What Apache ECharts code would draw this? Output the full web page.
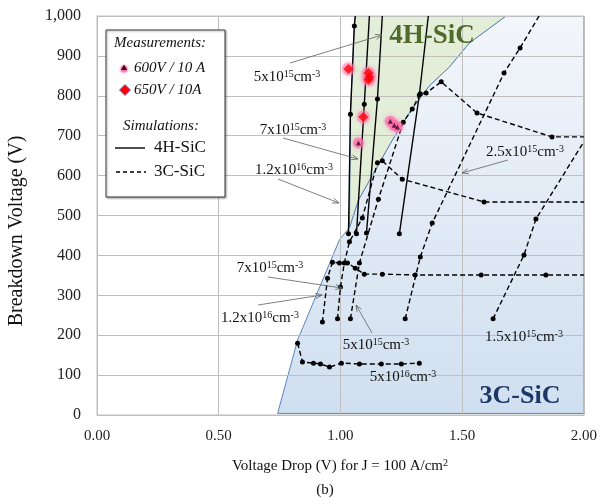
<!DOCTYPE html>
<html><head><meta charset="utf-8">
<script src="https://cdn.jsdelivr.net/npm/echarts@6/dist/echarts.min.js"></script>
<style>html,body{margin:0;padding:0;background:#fff}#c{width:600px;height:504px}</style>
</head><body><div id="c"></div>
<script>
// ---- data (x = voltage drop V, y = breakdown voltage V) ----
const xMin = 0, xMax = 2, xStep = 0.5;
const yMin = 0, yMax = 1000, yStep = 100;

// 4H-SiC simulations (solid)
const h4_12e16 = [[1.033,454],[1.041,754],[1.057,975],[1.061,1000]];
const h4_7e15  = [[1.066,454],[1.098,779],[1.119,1000]];
const h4_5e15  = [[1.107,456],[1.152,792],[1.172,1000]];
const h4_25e15 = [[1.242,454],[1.324,802],[1.361,1000]];

// 3C-SiC simulations (dashed)
const c3_5e16  = [[0.824,180],[0.844,133],[0.889,130],[0.918,128],[0.955,120],[1.004,130],[1.078,128],[1.168,128],[1.25,128],[1.324,130]];
const c3_12e16 = [[0.926,233],[0.947,343],[0.967,383],[0.996,381],[1.029,381],[1.061,368],[1.098,353],[1.172,353],[1.307,351],[1.578,351],[1.844,351],[2.0,351]];
const c3_7e15  = [[0.988,241],[1.0,321],[1.016,381],[1.037,434],[1.09,494],[1.152,632],[1.172,637],[1.254,591],[1.59,534],[2.0,534]];
const c3_5e15  = [[1.041,241],[1.078,381],[1.156,541],[1.258,734],[1.295,767],[1.328,805],[1.352,807],[1.414,835],[1.561,757],[1.869,697],[2.0,697]];
const c3_25e15 = [[1.266,241],[1.328,396],[1.377,481],[1.672,857],[1.738,920],[1.816,1000]];
const c3_15e15 = [[1.627,241],[1.754,401],[1.803,491],[2.0,685]];

// measurements
const meas600 = [[1.205,736],[1.221,726],[1.234,722],[1.074,682]];
const meas650 = [[1.033,867],[1.115,857],[1.119,847],[1.115,840],[1.094,747]];

// shaded regions
const region4H = [[1.037,470],[1.041,754],[1.057,975],[1.061,1000],[1.68,1000],[1.529,932],[1.447,872],[1.365,825],[1.291,764],[1.213,689],[1.074,539]];
const region3C = [[0.742,4],[0.824,188],[0.996,439],[1.037,470],[1.074,539],[1.213,689],[1.291,764],[1.365,825],[1.447,872],[1.529,932],[1.68,1000],[2.0,1000],[2.0,4]];

// ---- chart ----
const FF = '"Liberation Serif", "Times New Roman", serif';
const chart = echarts.init(document.getElementById('c'), null, {renderer:'canvas'});

function mark(arr){
  return arr.map(p => (p[0] >= xMax || p[1] >= yMax) ? {value:p, symbol:'none'} : p);
}
function simSeries(arr, dashed){
  return {type:'line', data: mark(arr), symbol:'circle', symbolSize:5, showSymbol:true,
    lineStyle:{color:'#000', width:1.4, type: dashed ? [5,3] : 'solid'},
    itemStyle:{color:'#000'}, z:3, clip:true, silent:true};
}
function regionSeries(poly, fill, z){
  return {type:'custom', z:z, silent:true, data:[0], clip:true,
    renderItem:(params, api) => ({type:'polygon',
      shape:{points: poly.map(p => api.coord(p))},
      style:{fill: fill, stroke:'#5a86bd', lineWidth:1}})};
}
const blueFill = new echarts.graphic.LinearGradient(0,0,0,1,[{offset:0,color:'#f3f6fb'},{offset:1,color:'#d0dff0'}]);

function arrow(x1,y1,x2,y2){
  const a = Math.atan2(y2-y1, x2-x1), L = 7, w = 0.38;
  return [
    {type:'line', z:20, shape:{x1,y1,x2,y2}, style:{stroke:'#5f5f5f', lineWidth:0.8}},
    {type:'polyline', z:20, shape:{points:[[x2-L*Math.cos(a-w), y2-L*Math.sin(a-w)],[x2,y2],[x2-L*Math.cos(a+w), y2-L*Math.sin(a+w)]]},
     style:{stroke:'#5f5f5f', lineWidth:0.8, fill:null}}
  ];
}
const richStyle = {
  n:{fontSize:15, fontFamily:FF, fill:'#111', color:'#111'},
  s:{fontSize:10, fontFamily:FF, fill:'#111', color:'#111', verticalAlign:'top', lineHeight:10}
};
function dopLabel(x, y, mant, exp){
  return {type:'text', z:20, x:x, y:y,
    style:{text:'{n|'+mant+'x10}{s|'+exp+'}{n|cm}{s|-3}', rich:richStyle, align:'center', verticalAlign:'middle'}};
}
function txt(x,y,text,font,color,align,rot){
  return {type:'text', z:20, x:x, y:y, rotation: rot||0,
    style:{text:text, font:font, fill:color||'#111', align:align||'center', verticalAlign:'middle'}};
}

const graphics = [
  // legend box
  {type:'rect', z:15, shape:{x:106, y:30, width:119, height:167},
   style:{fill:'#fff', stroke:'#3a3a3a', lineWidth:1, shadowBlur:2, shadowOffsetX:1, shadowOffsetY:1, shadowColor:'rgba(0,0,0,0.35)'}},
  txt(160, 43, 'Measurements:', 'italic 15px '+FF),
  {type:'circle', z:16, shape:{cx:124, cy:69, r:3.5}, style:{fill:'rgba(255,110,170,0.8)', shadowBlur:3, shadowColor:'#ff70b0'}},
  {type:'polygon', z:17, shape:{points:[[124,64.5],[127,70],[121,70]]}, style:{fill:'#3a0a1a'}},
  txt(134, 68, '600V / 10 A', 'italic 15px '+FF, '#111', 'left'),
  {type:'polygon', z:17, shape:{points:[[125,84.5],[130.5,90],[125,95.5],[119.5,90]]}, style:{fill:'#ff0000', stroke:'#6d72c0', lineWidth:1}},
  txt(134, 90, '650V / 10A', 'italic 15px '+FF, '#111', 'left'),
  txt(161, 126, 'Simulations:', 'italic 15px '+FF),
  {type:'line', z:17, shape:{x1:115, y1:148, x2:145, y2:148}, style:{stroke:'#000', lineWidth:1.4}},
  txt(154, 148, '4H-SiC', '17px '+FF, '#111', 'left'),
  {type:'line', z:17, shape:{x1:116, y1:172, x2:146, y2:172}, style:{stroke:'#000', lineWidth:1.4, lineDash:[4,3]}},
  txt(154, 172, '3C-SiC', '17px '+FF, '#111', 'left'),
  // region labels
  txt(432, 36, '4H-SiC', 'bold 27px '+FF, '#4f6a2a'),
  txt(520, 396, '3C-SiC', 'bold 26px '+FF, '#1b3866'),
  // doping labels 4H
  dopLabel(287, 77, '5', '15'),
  dopLabel(293, 130, '7', '15'),
  dopLabel(294, 170, '1.2', '16'),
  // doping labels 3C
  dopLabel(270, 268, '7', '15'),
  dopLabel(260, 318, '1.2', '16'),
  dopLabel(376, 345, '5', '15'),
  dopLabel(403, 377, '5', '16'),
  dopLabel(524, 337, '1.5', '15'),
  dopLabel(525, 152, '2.5', '15'),
  ...arrow(290,63,382,35),
  ...arrow(283,138,358,159),
  ...arrow(278,179,339,203),
  ...arrow(268,277,342,288),
  ...arrow(258,305,322,295),
  ...arrow(372,333,356,305),
  ...arrow(508,160,462,173),
  // axis names
  {type:'text', z:20, x:340, y:466, style:{text:'{n|Voltage Drop (V) for J = 100 A/cm}{s|2}', align:'center', verticalAlign:'middle',
    rich:{n:{fontSize:15, fontFamily:FF, fill:'#111', color:'#111'}, s:{fontSize:10, fontFamily:FF, fill:'#111', color:'#111', verticalAlign:'top', lineHeight:10}}}},
  txt(325, 490, '(b)', '15px '+FF),
  txt(17, 231, 'Breakdown Voltage (V)', '20px '+FF, '#111', 'center', Math.PI/2)
];

const option = {
  animation:false,
  backgroundColor:'#fff',
  grid:{left:97, right:15, top:16, bottom:89, show:true, borderColor:'#bfbfbf', borderWidth:1, backgroundColor:'transparent'},
  xAxis:{type:'value', min:xMin, max:xMax, interval:xStep,
    axisLine:{show:true, lineStyle:{color:'#bfbfbf'}}, axisTick:{show:false},
    splitLine:{show:true, lineStyle:{color:'#bfbfbf', width:1}},
    axisLabel:{formatter: v => v.toFixed(2), margin:14, fontSize:15, fontFamily:FF, color:'#222'}},
  yAxis:{type:'value', min:yMin, max:yMax, interval:yStep,
    axisLine:{show:true, lineStyle:{color:'#bfbfbf'}}, axisTick:{show:false},
    splitLine:{show:true, lineStyle:{color:'#bfbfbf', width:1}},
    axisLabel:{formatter: v => v.toLocaleString('en-US'), margin:16, fontSize:16, fontFamily:FF, color:'#222'}},
  series:[
    regionSeries(region3C, blueFill, -2),
    regionSeries(region4H, '#e3eed9', -1),
    simSeries(h4_12e16,false), simSeries(h4_7e15,false), simSeries(h4_5e15,false), simSeries(h4_25e15,false),
    simSeries(c3_5e16,true), simSeries(c3_12e16,true), simSeries(c3_7e15,true), simSeries(c3_5e15,true),
    simSeries(c3_25e15,true), simSeries(c3_15e15,true),
    {type:'scatter', data:meas600, symbol:'circle', symbolSize:11, z:4, silent:true,
      itemStyle:{color:'rgba(255,105,170,0.8)', shadowBlur:4, shadowColor:'#ff6fb0'}},
    {type:'scatter', data:meas650, symbol:'circle', symbolSize:13, z:4, silent:true,
      itemStyle:{color:'rgba(255,120,170,0.6)', shadowBlur:4, shadowColor:'#ff6fb0'}},
    {type:'scatter', data:meas600, symbol:'triangle', symbolSize:5, z:5, silent:true, itemStyle:{color:'#3a0a1a'}},
    {type:'scatter', data:meas650, symbol:'diamond', symbolSize:10, z:5, silent:true, itemStyle:{color:'#ff0000'}}
  ],
  graphic:{elements:graphics}
};
chart.setOption(option);
</script></body></html>
